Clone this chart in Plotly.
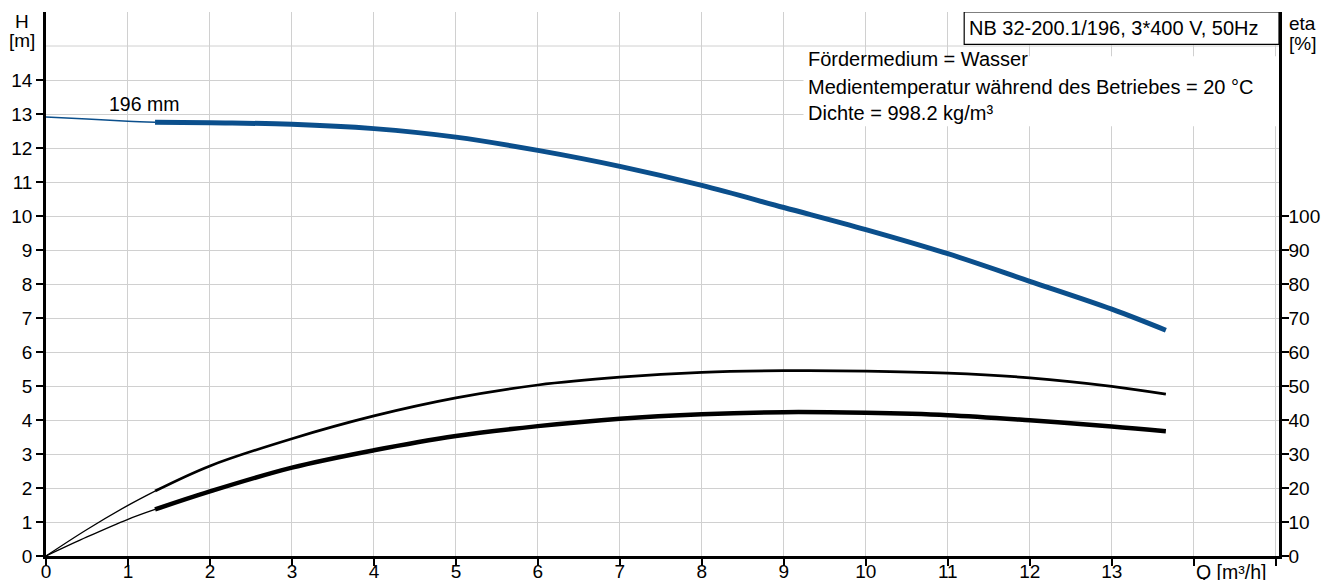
import plotly.graph_objects as go

# ---- data ----
q_h_thin = [0, 0.5, 1.0, 1.33]
h_thin = [12.91, 12.85, 12.79, 12.76]
q_main = [1.33, 2, 3, 4, 5, 6, 7, 8, 9, 10, 11, 12, 13, 13.66]
h_main = [12.76, 12.74, 12.70, 12.57, 12.32, 11.93, 11.46, 10.90, 10.25, 9.60, 8.89, 8.08, 7.26, 6.64]

q_eta_thin = [0, 0.5, 1.0, 1.33]
eta_up_thin = [0, 7.8, 14.9, 19.1]
eta_up_main = [19.1, 26.5, 34.5, 41.2, 46.5, 50.3, 52.6, 54.0, 54.5, 54.4, 53.8, 52.4, 49.9, 47.6]
eta_lo_thin = [0, 5.6, 10.8, 13.7]
eta_lo_main = [13.7, 19.0, 26.0, 31.1, 35.3, 38.2, 40.4, 41.7, 42.3, 42.1, 41.4, 39.9, 38.1, 36.7]

x_ticks = list(range(0, 16))
x_ticktext = [str(v) for v in range(0, 14)] + ["", ""]
h_ticks = list(range(0, 15))
eta_ticks = list(range(0, 101, 10))

BLUE = "#0b4f8c"
FONT = "Liberation Sans, Arial, sans-serif"
FS = 19
FS_INFO = 20
XMAX = 15.04

fig = go.Figure()
fig.add_trace(go.Scatter(x=q_h_thin, y=h_thin, mode="lines", line=dict(color=BLUE, width=1.5, shape="spline"), showlegend=False))
fig.add_trace(go.Scatter(x=q_main, y=h_main, mode="lines", line=dict(color=BLUE, width=5, shape="spline"), showlegend=False))
fig.add_trace(go.Scatter(x=q_eta_thin, y=eta_up_thin, yaxis="y2", mode="lines", line=dict(color="black", width=1.3, shape="spline"), showlegend=False))
fig.add_trace(go.Scatter(x=q_main, y=eta_up_main, yaxis="y2", mode="lines", line=dict(color="black", width=2.7, shape="spline"), showlegend=False))
fig.add_trace(go.Scatter(x=q_eta_thin, y=eta_lo_thin, yaxis="y2", mode="lines", line=dict(color="black", width=1.3, shape="spline"), showlegend=False))
fig.add_trace(go.Scatter(x=q_main, y=eta_lo_main, yaxis="y2", mode="lines", line=dict(color="black", width=4.5, shape="spline"), showlegend=False))

grid = "#d0d0d0"
fig.update_layout(
    width=1326, height=572,
    margin=dict(l=38, r=55, t=4, b=24, autoexpand=False),
    paper_bgcolor="white", plot_bgcolor="white",
    font=dict(family=FONT, size=FS, color="black"),
    xaxis=dict(range=[0, XMAX], tickmode="array", tickvals=x_ticks, ticktext=x_ticktext,
               showgrid=True, gridcolor=grid, gridwidth=1, zeroline=False, automargin=False,
               showline=True, linecolor="black", linewidth=2.5,
               ticks="outside", ticklen=7, tickwidth=2, tickcolor="black",
               ticklabelstandoff=-11,
               tickfont=dict(family=FONT, size=FS)),
    yaxis=dict(range=[0, 16], tickmode="array", tickvals=h_ticks,
               showgrid=True, gridcolor=grid, gridwidth=1, zeroline=False, automargin=False,
               showline=True, linecolor="black", linewidth=2.5,
               ticks="outside", ticklen=7, tickwidth=2, tickcolor="black",
               tickfont=dict(family=FONT, size=FS)),
    yaxis2=dict(range=[0, 160], overlaying="y", side="right", tickmode="array", tickvals=eta_ticks,
                showgrid=False, zeroline=False, automargin=False,
                showline=True, linecolor="black", linewidth=2.5,
                ticks="outside", ticklen=7, tickwidth=2, tickcolor="black",
                ticklabelstandoff=-4,
                tickfont=dict(family=FONT, size=FS)),
)

# extra grid line at H = 15 (no tick)
fig.add_shape(type="line", xref="x", yref="y", x0=0, x1=XMAX, y0=15, y1=15,
              line=dict(color=grid, width=1), layer="below")
# white background for the info text block
fig.add_shape(type="rect", xref="x", yref="y", x0=9.24, x1=XMAX, y0=12.64, y1=14.70,
              fillcolor="white", line=dict(width=0), layer="above")
# title box
fig.add_shape(type="rect", xref="x", yref="y", x0=11.2, x1=XMAX, y0=15.05, y1=16,
              fillcolor="white", line=dict(color="black", width=1.2), layer="above")

ann = [
    dict(x=11.24, y=15.52, text="NB 32-200.1/196, 3*400 V, 50Hz", xanchor="left", size=FS_INFO),
    dict(x=9.27, y=14.61, text="Fördermedium = Wasser", xanchor="left", size=FS_INFO),
    dict(x=9.27, y=13.79, text="Medientemperatur während des Betriebes = 20 °C", xanchor="left", size=FS_INFO),
    dict(x=9.27, y=13.03, text="Dichte = 998.2 kg/m³", xanchor="left", size=FS_INFO),
    dict(x=1.19, y=13.29, text="196 mm", xanchor="center", size=19.5),
]
for a in ann:
    sz = a.pop("size")
    fig.add_annotation(xref="x", yref="y", yanchor="middle", showarrow=False,
                       font=dict(family=FONT, size=sz, color="black"), **a)

# axis titles
fig.add_annotation(xref="x", yref="paper", x=14, y=-0.029, text="Q [m³/h]", xanchor="left", yanchor="middle",
                   showarrow=False, font=dict(family=FONT, size=19.5, color="black"))
fig.add_annotation(xref="paper", yref="paper", x=-0.0192, y=0.983, text="H", xanchor="center", yanchor="middle",
                   showarrow=False, font=dict(family=FONT, size=FS, color="black"))
fig.add_annotation(xref="paper", yref="paper", x=-0.0192, y=0.947, text="[m]", xanchor="center", yanchor="middle",
                   showarrow=False, font=dict(family=FONT, size=FS, color="black"))
fig.add_annotation(xref="paper", yref="paper", x=1.019, y=0.978, text="eta", xanchor="center", yanchor="middle",
                   showarrow=False, font=dict(family=FONT, size=FS, color="black"))
fig.add_annotation(xref="paper", yref="paper", x=1.019, y=0.942, text="[%]", xanchor="center", yanchor="middle",
                   showarrow=False, font=dict(family=FONT, size=FS, color="black"))

fig.write_html("out.html")
